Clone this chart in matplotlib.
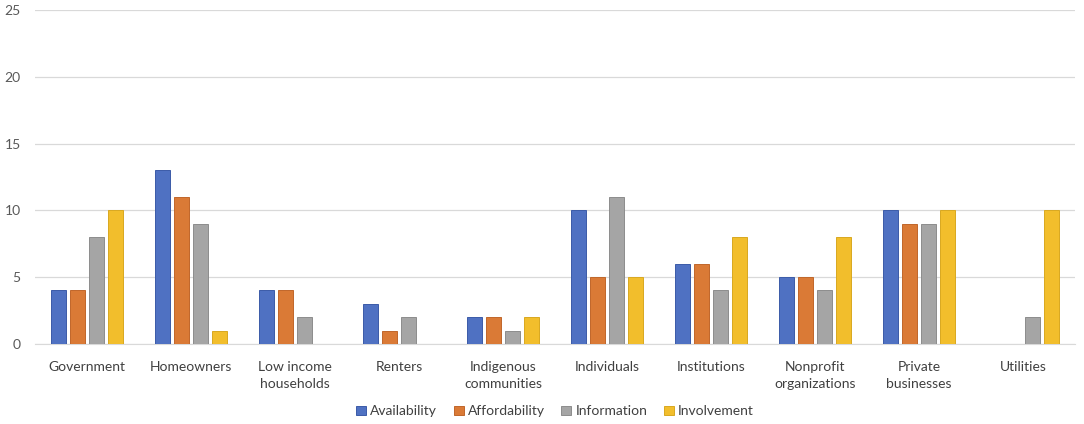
import matplotlib.pyplot as plt
import numpy as np

categories = ["Government", "Homeowners", "Low income\nhouseholds", "Renters",
              "Indigenous\ncommunities", "Individuals", "Institutions",
              "Nonprofit\norganizations", "Private\nbusinesses", "Utilities"]
series = ["Availability", "Affordability", "Information", "Involvement"]
availability = [4, 13, 4, 3, 2, 10, 6, 5, 10, 0]
affordability = [4, 11, 4, 1, 2, 5, 6, 5, 9, 0]
information = [8, 9, 2, 2, 1, 11, 4, 4, 9, 2]
involvement = [10, 1, 0, 0, 2, 5, 8, 8, 10, 10]
values = [availability, affordability, information, involvement]

colors = ["#4F71C2", "#DA7A36", "#A5A5A5", "#F2BE2C"]
edges = ["#3B5BA8", "#C0662A", "#8C8C8C", "#D9A820"]

plt.rcParams['font.family'] = ['Lato', 'DejaVu Sans']

fig = plt.figure(figsize=(10.84, 4.24), dpi=100)
ax = fig.add_axes([0.032, 0.189, 0.96, 0.787])

x = np.arange(len(categories))
pitch = 0.183
width = 0.145
for i, (name, vals) in enumerate(zip(series, values)):
    ax.bar(x + (i - 1.5) * pitch, vals, width, color=colors[i],
           edgecolor=edges[i], linewidth=0.7, label=name, zorder=3)

ax.set_xlim(-0.5, len(categories) - 0.5)
ax.set_ylim(0, 25)
ax.set_yticks(range(0, 26, 5))
ax.set_xticks(x)
ax.set_xticklabels(categories, fontsize=10, color="#404040", linespacing=1.5)
ax.tick_params(axis="y", labelsize=10, labelcolor="#595959", length=0, pad=10)
ax.tick_params(axis="x", length=0, pad=12)
ax.grid(axis="y", color="#D9D9D9", linewidth=0.9, zorder=0)
for s in ["top", "right", "left"]:
    ax.spines[s].set_visible(False)
ax.spines["bottom"].set_color("#D9D9D9")

ax.legend(loc="center", bbox_to_anchor=(0.5, -0.202), ncol=4, frameon=False,
          fontsize=10, handlelength=0.7, handleheight=0.7, handletextpad=0.3,
          columnspacing=1.2, labelcolor="#404040")

fig.savefig("out.png", dpi=100)
